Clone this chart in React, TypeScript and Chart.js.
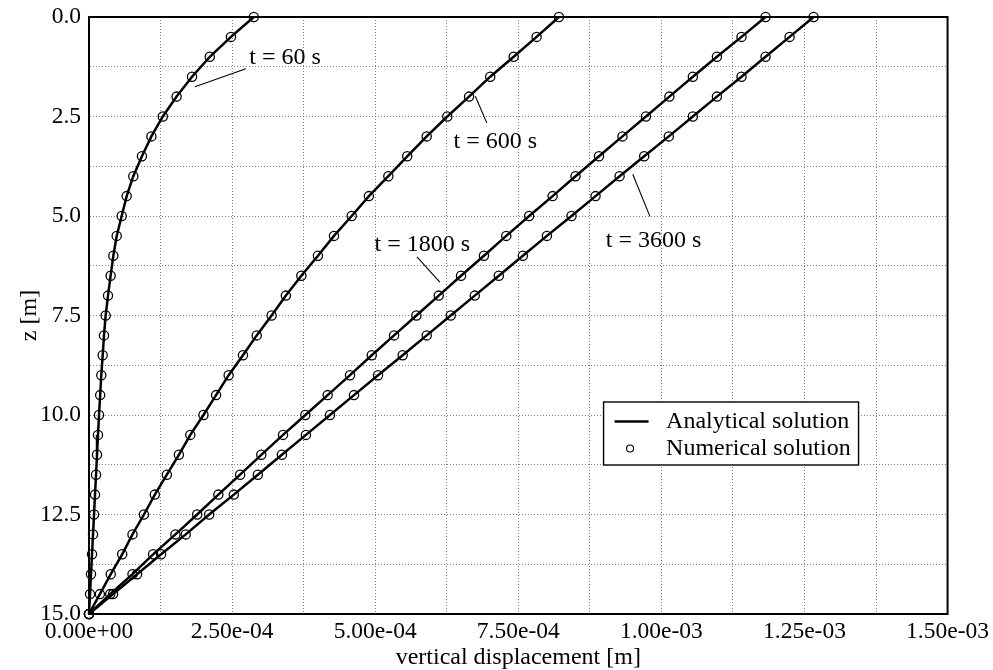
import React, { useEffect, useRef } from 'react';
import { Chart, registerables } from 'chart.js';

Chart.register(...registerables);

// ---------------- data ----------------
const depths = [
  0, 0.5, 1, 1.5, 2, 2.5, 3, 3.5, 4, 4.5, 5, 5.5, 6, 6.5, 7, 7.5,
  8, 8.5, 9, 9.5, 10, 10.5, 11, 11.5, 12, 12.5, 13, 13.5, 14, 14.5, 15,
];

const disp60 = [
  2.88e-4, 2.48e-4, 2.11e-4, 1.8e-4, 1.53e-4, 1.29e-4, 1.09e-4, 9.25e-5,
  7.74e-5, 6.58e-5, 5.71e-5, 4.84e-5, 4.25e-5, 3.78e-5, 3.32e-5, 2.91e-5,
  2.62e-5, 2.39e-5, 2.15e-5, 1.95e-5, 1.75e-5, 1.57e-5, 1.4e-5, 1.23e-5,
  1.05e-5, 8.8e-6, 7.0e-6, 5.3e-6, 3.5e-6, 1.8e-6, 0,
];

const disp600 = [
  8.21e-4, 7.82e-4, 7.42e-4, 7.01e-4, 6.64e-4, 6.26e-4, 5.9e-4, 5.56e-4,
  5.23e-4, 4.89e-4, 4.59e-4, 4.28e-4, 4.0e-4, 3.71e-4, 3.44e-4, 3.19e-4,
  2.93e-4, 2.69e-4, 2.44e-4, 2.22e-4, 2.0e-4, 1.77e-4, 1.57e-4, 1.36e-4,
  1.15e-4, 9.6e-5, 7.6e-5, 5.8e-5, 3.8e-5, 1.9e-5, 0,
];

const disp1800 = [
  1.182e-3, 1.14e-3, 1.097e-3, 1.055e-3, 1.014e-3, 9.73e-4, 9.32e-4, 8.91e-4,
  8.5e-4, 8.1e-4, 7.69e-4, 7.29e-4, 6.9e-4, 6.5e-4, 6.11e-4, 5.72e-4,
  5.33e-4, 4.94e-4, 4.56e-4, 4.17e-4, 3.78e-4, 3.39e-4, 3.01e-4, 2.64e-4,
  2.26e-4, 1.89e-4, 1.51e-4, 1.12e-4, 7.6e-5, 3.7e-5, 0,
];

const disp3600 = [
  1.266e-3, 1.224e-3, 1.182e-3, 1.14e-3, 1.097e-3, 1.055e-3, 1.013e-3, 9.7e-4,
  9.27e-4, 8.85e-4, 8.43e-4, 8.0e-4, 7.58e-4, 7.16e-4, 6.74e-4, 6.32e-4,
  5.9e-4, 5.48e-4, 5.05e-4, 4.63e-4, 4.21e-4, 3.79e-4, 3.37e-4, 2.95e-4,
  2.53e-4, 2.1e-4, 1.69e-4, 1.26e-4, 8.4e-5, 4.2e-5, 0,
];

const seriesList = [disp60, disp600, disp1800, disp3600];
const curveLabels = ['t = 60 s', 't = 600 s', 't = 1800 s', 't = 3600 s'];
const legendLabels = ['Analytical solution', 'Numerical solution'];
const xTitle = 'vertical displacement [m]';
const yTitle = 'z [m]';

// annotation placement (in data units: x displacement, z depth)
const annotationCfg = [
  { textX: 2.8e-4, textZ: 1.02, from: [2.74e-4, 1.3], to: [1.85e-4, 1.75] },
  { textX: 6.37e-4, textZ: 3.13, from: [6.75e-4, 1.99], to: [6.95e-4, 2.66] },
  { textX: 4.99e-4, textZ: 5.72, from: [5.73e-4, 6.03], to: [6.13e-4, 6.66] },
  { textX: 9.03e-4, textZ: 5.62, from: [9.5e-4, 3.95], to: [9.8e-4, 5.01] },
];

const FONT = "'Liberation Serif', 'DejaVu Serif', serif";
const FS_TICK = 23.5;
const FS = 24;

function sciLabel(v: number): string {
  const s = Number(v).toExponential(2);
  const [m, ex] = s.split('e');
  const sign = ex[0] === '-' ? '-' : '+';
  const digits = ex.replace(/[+-]/, '').padStart(2, '0');
  return `${m}e${sign}${digits}`;
}

const overlayPlugin = {
  id: 'overlay',
  beforeDatasetsDraw(chart: any) {
    const { ctx, chartArea } = chart;
    ctx.save();
    ctx.strokeStyle = '#000';
    ctx.lineWidth = 2;
    ctx.setLineDash([]);
    ctx.strokeRect(chartArea.left, chartArea.top, chartArea.right - chartArea.left, chartArea.bottom - chartArea.top);
    ctx.restore();
  },
  afterDraw(chart: any) {
    const { ctx, chartArea, scales } = chart;
    const xs = scales.x;
    const ys = scales.y;
    ctx.save();
    ctx.fillStyle = '#000';
    ctx.strokeStyle = '#000';
    ctx.font = `${FS}px ${FONT}`;
    ctx.textBaseline = 'middle';
    ctx.textAlign = 'left';
    annotationCfg.forEach((a, i) => {
      ctx.fillText(curveLabels[i], xs.getPixelForValue(a.textX), ys.getPixelForValue(a.textZ));
      ctx.lineWidth = 1.1;
      ctx.beginPath();
      ctx.moveTo(xs.getPixelForValue(a.from[0]), ys.getPixelForValue(a.from[1]));
      ctx.lineTo(xs.getPixelForValue(a.to[0]), ys.getPixelForValue(a.to[1]));
      ctx.stroke();
    });

    // legend box
    const boxW = 255;
    const boxH = 63;
    const boxRight = chartArea.right - 89;
    const boxBottom = chartArea.bottom - 149;
    const bx = boxRight - boxW;
    const by = boxBottom - boxH;
    ctx.fillStyle = '#fff';
    ctx.fillRect(bx, by, boxW, boxH);
    ctx.lineWidth = 1.4;
    ctx.strokeRect(bx, by, boxW, boxH);
    const row1 = by + 19.5;
    const row2 = by + 46.5;
    ctx.lineWidth = 2.5;
    ctx.beginPath();
    ctx.moveTo(bx + 11, row1);
    ctx.lineTo(bx + 45, row1);
    ctx.stroke();
    ctx.lineWidth = 1.1;
    ctx.beginPath();
    ctx.arc(bx + 26.5, row2, 3.5, 0, Math.PI * 2);
    ctx.stroke();
    ctx.fillStyle = '#000';
    ctx.fillText(legendLabels[0], bx + 62.5, row1);
    ctx.fillText(legendLabels[1], bx + 62.5, row2);
    ctx.restore();
  },
};

export default function App() {
  const canvasRef = useRef<HTMLCanvasElement | null>(null);

  useEffect(() => {
    if (!canvasRef.current) return;
    const datasets: any[] = [];
    seriesList.forEach((series, i) => {
      const pts = depths.map((z, j) => ({ x: series[j], y: z }));
      datasets.push({
        label: `${legendLabels[0]} ${curveLabels[i]}`,
        data: pts,
        showLine: true,
        borderColor: '#000',
        borderWidth: 2.5,
        pointRadius: 0,
        fill: false,
        clip: 4,
      });
      datasets.push({
        label: `${legendLabels[1]} ${curveLabels[i]}`,
        data: pts,
        showLine: false,
        pointRadius: 4.6,
        pointBorderWidth: 1.3,
        pointBorderColor: '#000',
        pointBackgroundColor: 'rgba(0,0,0,0)',
        clip: 10,
      });
    });

    const chart = new Chart(canvasRef.current, {
      type: 'scatter',
      data: { datasets },
      options: {
        responsive: false,
        animation: false,
        events: [],
        layout: { padding: { top: 17, right: 45, left: 0, bottom: 0 } },
        plugins: {
          legend: { display: false },
          tooltip: { enabled: false },
        },
        scales: {
          x: {
            type: 'linear',
            min: 0,
            max: 1.5e-3,
            afterFit: (s: any) => {
              s.height = 56;
            },
            ticks: {
              stepSize: 1.25e-4,
              autoSkip: false,
              maxRotation: 0,
              minRotation: 0,
              padding: 4,
              color: '#000',
              font: { family: FONT, size: FS_TICK },
              callback: (v: any, i: number) => (i % 2 === 0 ? sciLabel(Number(v)) : ''),
            },
            grid: { color: '#808080', lineWidth: 1, drawTicks: false },
            border: { display: true, color: '#000', width: 2, dash: [1, 2] },
            title: {
              display: true,
              text: xTitle,
              color: '#000',
              font: { family: FONT, size: FS, lineHeight: 1.05 },
              padding: { top: 0, bottom: 0 },
            },
          },
          y: {
            type: 'linear',
            reverse: true,
            min: 0,
            max: 15,
            afterFit: (s: any) => {
              s.width = 89;
            },
            ticks: {
              stepSize: 1.25,
              autoSkip: false,
              padding: 8,
              color: '#000',
              font: { family: FONT, size: FS_TICK, lineHeight: 0.7 },
              callback: (v: any, i: number) => (i % 2 === 0 ? Number(v).toFixed(1) : ''),
            },
            grid: { color: '#808080', lineWidth: 1, drawTicks: false },
            border: { display: true, color: '#000', width: 2, dash: [1, 2] },
            title: {
              display: true,
              text: yTitle,
              color: '#000',
              font: { family: FONT, size: FS, lineHeight: 1.1 },
              padding: { top: 17, bottom: 0 },
            },
          },
        },
      },
      plugins: [overlayPlugin],
    });
    return () => chart.destroy();
  }, []);

  return (
    <div style={{ position: 'fixed', left: 0, top: 0, width: 993, height: 670, background: '#fff' }}>
      <canvas ref={canvasRef} width={993} height={670} style={{ width: 993, height: 670, display: 'block' }} />
    </div>
  );
}
